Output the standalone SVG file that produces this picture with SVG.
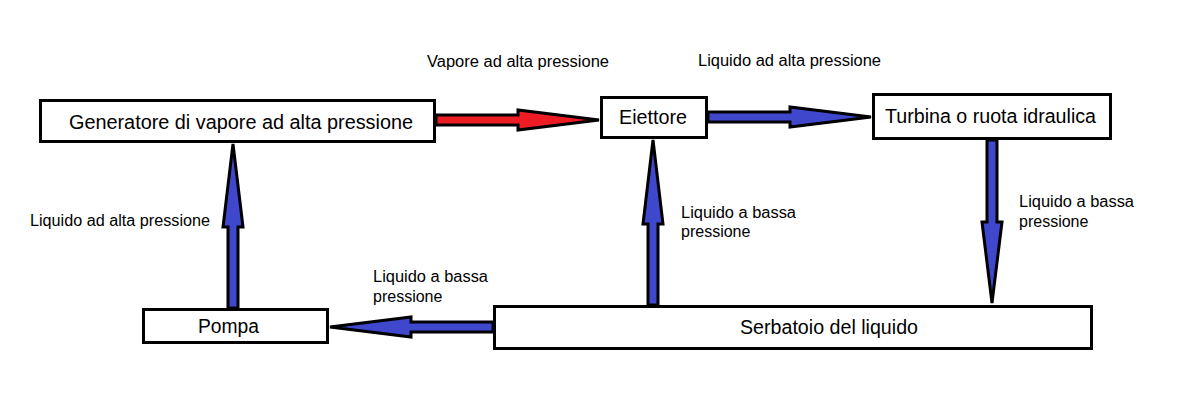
<svg xmlns="http://www.w3.org/2000/svg" width="1179" height="409" viewBox="0 0 1179 409">
<style>
.box{fill:#fff;stroke:#000;stroke-width:3}
.bt{font-family:"Liberation Sans",Arial,sans-serif;font-size:19.5px;fill:#000;text-anchor:middle}
.lb{font-family:"Liberation Sans",Arial,sans-serif;font-size:16px;fill:#000}
.ar{stroke:#000;stroke-width:3;stroke-linejoin:miter}
.blue{fill:#3f48cc}
.red{fill:#ed1c24}
</style>
<rect width="1179" height="409" fill="#fff"/>
<g id="connectors">
<polygon class="ar red" points="436,115 518,115 518,110 599,120 518,130 518,125 436,125"/>
<polygon class="ar blue" points="708,112 790,112 790,107 871,117 790,127 790,122 708,122"/>
<polygon class="ar blue" points="987,140 987,222 982,222 992,303 1002,222 997,222 997,140"/>
<polygon class="ar blue" points="648,305 648,224 643,224 653,140 663,224 658,224 658,305"/>
<polygon class="ar blue" points="228,308 228,227 223,227 233,144 243,227 238,227 238,308"/>
<polygon class="ar blue" points="493,322 411,322 411,317 330,327 411,337 411,332 493,332"/>
</g>
<g id="generatore">
<rect class="box" x="40.5" y="100.5" width="394" height="41"/>
<text class="bt" x="241" y="129" textLength="344" lengthAdjust="spacingAndGlyphs">Generatore di vapore ad alta pressione</text>
</g>
<g id="eiettore">
<rect class="box" x="601.5" y="97.5" width="105" height="40"/>
<text class="bt" x="653" y="124" textLength="68" lengthAdjust="spacingAndGlyphs">Eiettore</text>
</g>
<g id="turbina">
<rect class="box" x="873.5" y="94.5" width="237" height="44"/>
<text class="bt" x="990.5" y="123" textLength="211" lengthAdjust="spacingAndGlyphs">Turbina o ruota idraulica</text>
</g>
<g id="pompa">
<rect class="box" x="143.5" y="309.5" width="184" height="33"/>
<text class="bt" x="228.5" y="333" textLength="61" lengthAdjust="spacingAndGlyphs">Pompa</text>
</g>
<g id="serbatoio">
<rect class="box" x="494.5" y="306.5" width="597" height="42"/>
<text class="bt" x="829" y="334" textLength="178" lengthAdjust="spacingAndGlyphs">Serbatoio del liquido</text>
</g>
<g id="labels">
<text class="lb" x="427" y="67" textLength="182" lengthAdjust="spacingAndGlyphs">Vapore ad alta pressione</text>
<text class="lb" x="698" y="66" textLength="183" lengthAdjust="spacingAndGlyphs">Liquido ad alta pressione</text>
<text class="lb" x="1019" y="207" textLength="115" lengthAdjust="spacingAndGlyphs">Liquido a bassa</text>
<text class="lb" x="1019" y="227">pressione</text>
<text class="lb" x="681" y="218" textLength="115" lengthAdjust="spacingAndGlyphs">Liquido a bassa</text>
<text class="lb" x="681" y="237">pressione</text>
<text class="lb" x="30" y="226" textLength="180" lengthAdjust="spacingAndGlyphs">Liquido ad alta pressione</text>
<text class="lb" x="373" y="282" textLength="115" lengthAdjust="spacingAndGlyphs">Liquido a bassa</text>
<text class="lb" x="373" y="302">pressione</text>
</g>
</svg>
